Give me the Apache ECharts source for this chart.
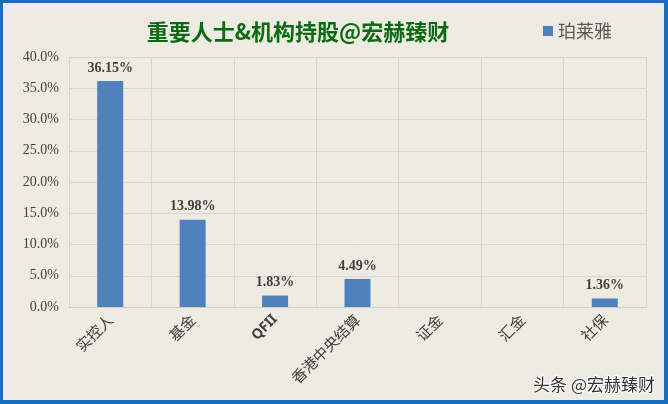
<!DOCTYPE html>
<html><head><meta charset="utf-8">
<script src="https://cdn.jsdelivr.net/npm/echarts@6/dist/echarts.min.js"></script>
<style>html,body{margin:0;padding:0;background:#eeebe3}#c{width:668px;height:404px}</style>
</head><body><div id="c"></div>
<script>
const categories = ['实控人', '基金', 'QFII', '香港中央结算', '证金', '汇金', '社保'];
const values = [36.15, 13.98, 1.83, 4.49, null, null, 1.36];
const seriesName = '珀莱雅';
const titleText = '重要人士&机构持股@宏赫臻财';
const watermark = '头条 @宏赫臻财';

const chart = echarts.init(document.getElementById('c'));
chart.setOption({
  backgroundColor: '#eeebe3',
  animation: false,
  title: {
    text: titleText, left: 293, top: 16, textAlign: 'center',
    textStyle: {color: '#0b6b12', fontSize: 22, fontWeight: 'bold', fontFamily: 'Noto Sans CJK SC'}
  },
  legend: {
    data: [seriesName], right: 51, top: 17, icon: 'rect', itemWidth: 10, itemHeight: 10, itemGap: 6,
    textStyle: {color: '#595959', fontSize: 18, fontFamily: 'Noto Sans CJK SC'}
  },
  grid: {left: 69, right: 22, top: 57, bottom: 97},
  xAxis: {
    type: 'category', data: categories,
    axisLine: {lineStyle: {color: '#d0cdc6'}},
    axisTick: {show: false},
    splitLine: {show: true, lineStyle: {color: '#d9d6cf'}},
    axisLabel: {rotate: 45, color: '#404040', fontSize: 15, margin: 10, fontFamily: 'Noto Sans CJK SC',
      formatter: v => /^[A-Z]+$/.test(v) ? '{b|' + v + '}' : v,
      rich: {b: {fontWeight: 'bold', fontSize: 14, color: '#404040', fontFamily: 'Noto Sans'}}}
  },
  yAxis: {
    type: 'value', min: 0, max: 40, interval: 5,
    axisLine: {show: false}, axisTick: {show: false},
    splitLine: {lineStyle: {color: '#d9d6cf'}},
    axisLabel: {color: '#404040', fontSize: 14, margin: 10, fontFamily: 'Liberation Serif',
      formatter: v => v.toFixed(1) + '%'}
  },
  series: [{
    name: seriesName, type: 'bar', data: values, barWidth: 26,
    itemStyle: {color: '#4f81bd'},
    label: {show: true, position: 'top', distance: 6, color: '#404040', fontSize: 14, fontWeight: 'bold',
      fontFamily: 'Liberation Serif', formatter: p => p.value == null ? '' : p.value.toFixed(2) + '%'}
  }],
  graphic: [
    {type: 'rect', shape: {x: 1.5, y: 1.5, width: 664.5, height: 400.5}, style: {fill: 'none', stroke: '#1a6cc0', lineWidth: 3}, z: 100},
    {type: 'rect', shape: {x: 0, y: 400, width: 668, height: 4}, style: {fill: '#1a6cc0'}, z: 100},
    {type: 'rect', shape: {x: 664, y: 0, width: 4, height: 404}, style: {fill: '#1a6cc0'}, z: 100},
    {type: 'text', right: 12, bottom: 10, style: {text: watermark, fill: '#333', fontSize: 17, fontFamily: 'Noto Sans CJK SC', stroke: '#fff', lineWidth: 2}, z: 100}
  ]
});
</script></body></html>
